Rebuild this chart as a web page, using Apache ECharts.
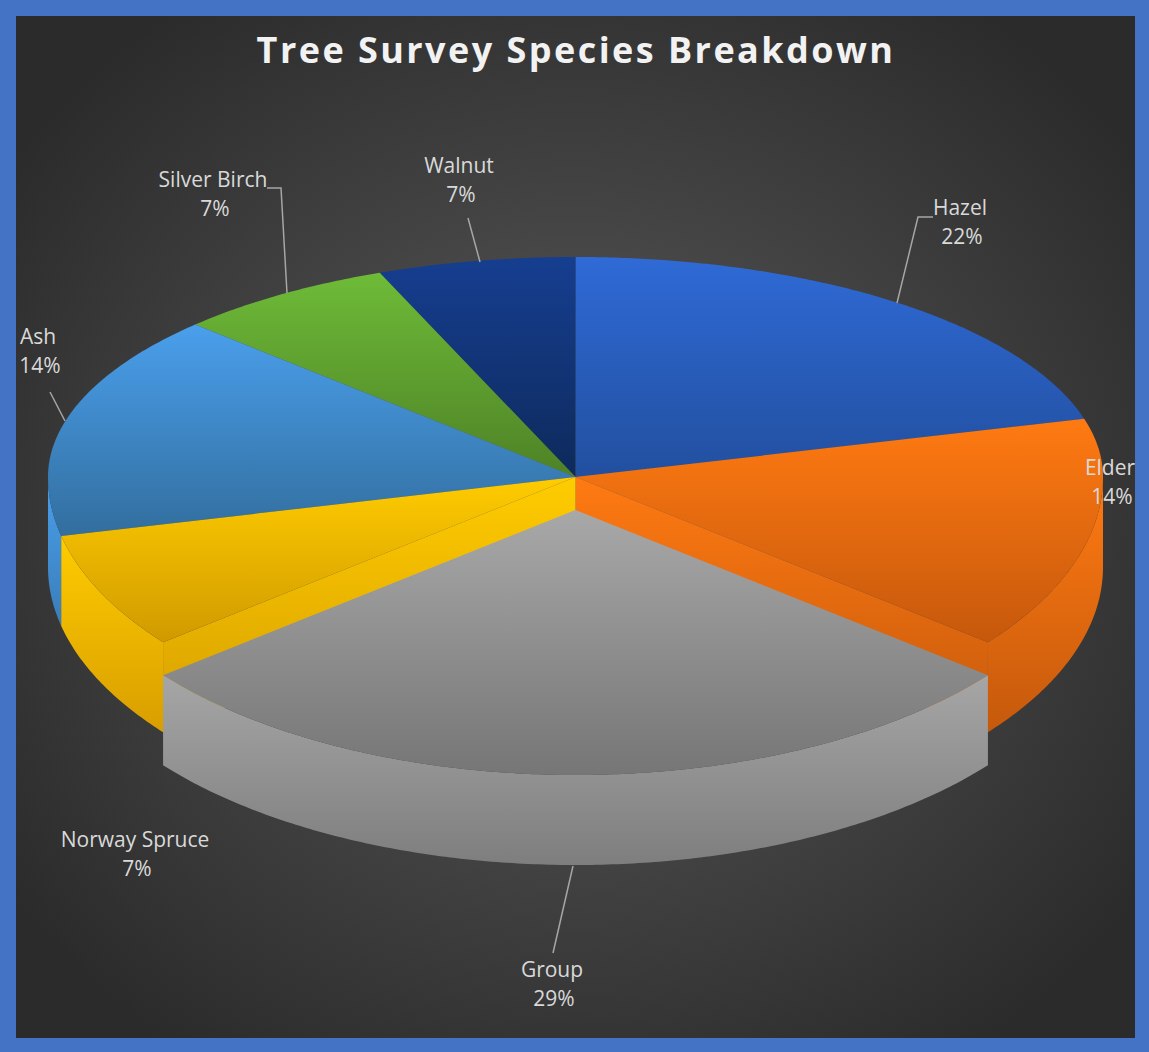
<!DOCTYPE html>
<html>
<head>
<meta charset="utf-8">
<style>
html,body{margin:0;padding:0;background:#4472C4;overflow:hidden}
#c{width:1149px;height:1052px}
svg text[style*="36px"]{letter-spacing:2.45px}
</style>
<script src="https://cdn.jsdelivr.net/npm/echarts@6/dist/echarts.min.js"></script>
</head>
<body>
<div id="c"></div>
<script>
const chartTitle = "Tree Survey Species Breakdown";
const species = ["Hazel","Elder","Group","Norway Spruce","Ash","Silver Birch","Walnut"];
const treeCounts = [3,2,4,1,2,1,1];
const percentLabels = ["22%","14%","29%","7%","14%","7%","7%"];

// Styles: [start, end] of the vertical gradients
const faceColors = [
  ["#2F6AD6","#224F9F"],["#FF7A12","#C6580C"],["#A8A8A8","#767676"],
  ["#FFCC00","#D09A00"],["#4A9FEC","#326E9E"],["#6EBB38","#4E8226"],["#163E90","#0E2A5C"]
];
const wallColors = [
  ["#2F6AD6","#224F9F"],["#FF7A12","#C5590C"],["#A6A6A6","#7E7E7E"],
  ["#FFCC00","#D89E00"],["#4A9FEC","#3A7DB8"],["#6EBB38","#4E8226"],["#163E90","#0E2A5C"]
];
// Layout of the 3D disc
const cx = 575.5, cy = 477, rx = 527.5, ryBack = 220, ryFront = 265, depth = 90, backSquash = 0.83;
const explode = [0,0,33,0,0,0,0];
const labelLayout = [
  {x:960,y:207,leader:[[897,303],[918,217],[933,217]]},
  {x:1110,y:467,leader:null},
  {x:552,y:969,leader:[[573,866],[553,953]]},
  {x:135,y:839,leader:null},
  {x:38,y:336,leader:[[65,421],[50,392]]},
  {x:213,y:179,leader:[[287,293],[281,188],[267,188]]},
  {x:459,y:165,leader:[[480,262],[468,218]]}
];

const total = treeCounts.reduce((a,b)=>a+b,0);
const startAngles = [];
treeCounts.reduce((acc,v,i)=>{startAngles[i]=acc;return acc+v/total*Math.PI*2;},0);

function project(t,dy){
  let X=Math.sin(t),Y=Math.cos(t),px,py;
  if(Y>0){
    const ax=X*backSquash,n=Math.hypot(ax,Y);
    px=cx+rx*ax/n; py=cy-ryBack*Y/n;
  }else{
    px=cx+rx*X; py=cy-ryFront*Y;
  }
  return [px,py+dy];
}
function arc(a,b,dy){
  const pts=[],n=Math.max(8,Math.ceil((b-a)/0.01));
  for(let k=0;k<=n;k++)pts.push(project(a+(b-a)*k/n,dy));
  return pts;
}
function vGrad(c){
  return new echarts.graphic.LinearGradient(0,0,0,1,[{offset:0,color:c[0]},{offset:1,color:c[1]}]);
}
function sliceItem(params,api){
  const i=api.value(0);
  const a=startAngles[i],b=a+treeCounts[i]/total*Math.PI*2,s=explode[i];
  const top=arc(a,b,s);
  const children=[];
  // radial walls seen behind the exploded slice
  if(i===1||i===3){
    const p=project(i===1?b:a,0);
    children.push({type:'polygon',shape:{points:[[cx,cy],p,[p[0],p[1]+depth],[cx,cy+depth]]},
      style:{fill:vGrad(i===1?wallColors[1]:["#FFCC00","#D69E00"])}});
  }
  // outer wall: only the part of the rim that faces the viewer
  const wa=Math.max(a,Math.PI/2),wb=Math.min(b,Math.PI*1.5);
  if(wb>wa){
    children.push({type:'polygon',shape:{points:arc(wa,wb,s).concat(arc(wa,wb,s+depth).reverse())},
      style:{fill:vGrad(wallColors[i])}});
  }
  // top face
  children.push({type:'polygon',shape:{points:[[cx,cy+s]].concat(top)},style:{fill:vGrad(faceColors[i])}});
  return {type:'group',children};
}
function labelItem(params,api){
  const i=api.value(0),l=labelLayout[i],children=[];
  if(l.leader)children.push({type:'polyline',shape:{points:l.leader},style:{stroke:'#a6a6a6',lineWidth:1.5,fill:null}});
  children.push({type:'text',style:{x:l.x,y:l.y,text:species[i],textAlign:'center',textVerticalAlign:'middle',fill:'#d9d9d9',font:'21px "Open Sans"'}});
  children.push({type:'text',style:{x:l.x+2,y:l.y+29,text:percentLabels[i],textAlign:'center',textVerticalAlign:'middle',fill:'#d9d9d9',font:'21px "Open Sans"'}});
  return {type:'group',children};
}
const drawOrder=[0,6,5,4,1,3,2];
const chart=echarts.init(document.getElementById('c'),null,{renderer:'svg'});
chart.setOption({
  animation:false,
  backgroundColor:'#4472C4',
  title:{text:chartTitle,left:571,top:26,textAlign:'center',
    textStyle:{color:'#f2f2f2',fontFamily:'Open Sans',fontWeight:'bold',fontSize:36}},
  graphic:[{type:'rect',z:-10,shape:{x:16,y:16,width:1119,height:1022},
    style:{fill:new echarts.graphic.RadialGradient(0.5,0.5,0.62,[
      {offset:0,color:'#5c5c5c'},{offset:1,color:'#2b2b2b'}])}}],
  series:[
    {type:'custom',coordinateSystem:'none',z:2,silent:true,clip:false,
     data:drawOrder.map(i=>[i]),renderItem:sliceItem},
    {type:'custom',coordinateSystem:'none',z:5,silent:true,clip:false,
     data:species.map((n,i)=>[i]),renderItem:labelItem}
  ]
});
</script>
</body>
</html>
